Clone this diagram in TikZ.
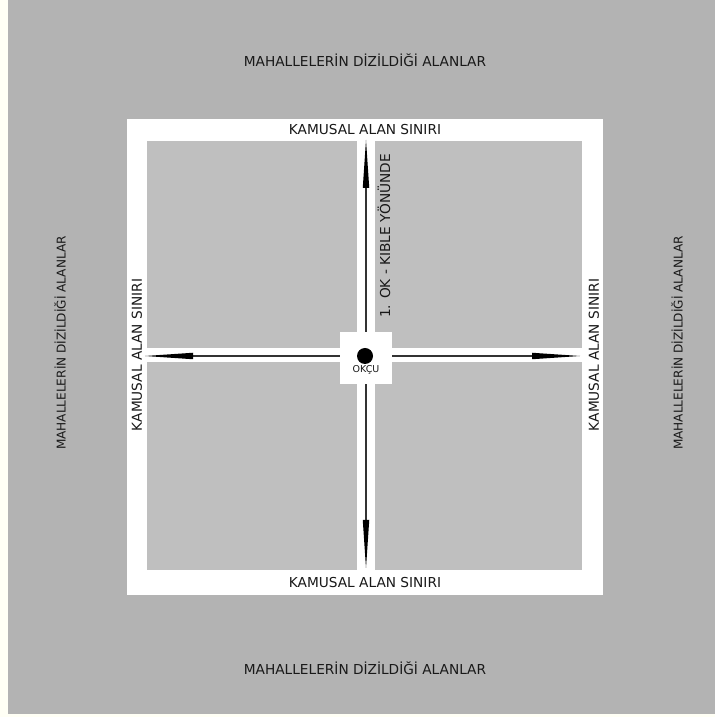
\documentclass[tikz,border=0pt]{standalone}
\usepackage{fontspec}
\setmainfont{DejaVu Sans}
\usetikzlibrary{arrows.meta}
\definecolor{edgebg}{RGB}{255,255,245}
\definecolor{outergray}{RGB}{179,179,179}
\definecolor{quadgray}{RGB}{191,191,191}
\definecolor{txtcol}{RGB}{25,25,25}
\tikzset{
  bigtxt/.style={font=\fontsize{13.7}{16}\selectfont, text=txtcol, inner sep=0pt},
  sidetxt/.style={font=\fontsize{12.1}{14}\selectfont, text=txtcol, inner sep=0pt},
  smalltxt/.style={font=\fontsize{9.5}{11}\selectfont, text=txtcol, inner sep=0pt},
  quad/.style={fill=quadgray, draw=none},
  axis/.style={draw=black!80, line width=1.1pt, -{Triangle[length=48pt,width=6.5pt,line width=0pt,fill=black,color=black]}}
}
\begin{document}
\begin{tikzpicture}[x=1pt,y=1pt]
\useasboundingbox (0,0) rectangle (715,717);
\fill[edgebg] (0,0) rectangle (715,717);
\fill[outergray] (8,3) rectangle (715,717);
% white square
\fill[white] (127,122) rectangle (603,598);
% quadrants
\fill[quad] (147,369) rectangle (357,576);
\fill[quad] (375,369) rectangle (582,576);
\fill[quad] (147,147) rectangle (357,355);
\fill[quad] (375,147) rectangle (582,355);
% axes
\coordinate (c) at (366,361);
\coordinate (n) at (366,577);
\coordinate (s) at (366,149);
\coordinate (w) at (145,361);
\coordinate (e) at (580,361);
\draw[axis] (c) -- (n);
\draw[axis] (c) -- (s);
\draw[axis] (c) -- (w);
\draw[axis] (c) -- (e);
% center box
\fill[white] (340,333) rectangle (392,385);
\node[circle, fill=black, minimum size=16pt, inner sep=0pt] (dot) at (365,361) {};
\node[smalltxt] (okcu) at (366,347) {OKÇU};
% outer labels
\node[bigtxt] (mtop) at (365,657) {MAHALLELERİN DİZİLDİĞİ ALANLAR};
\node[bigtxt] (mbot) at (365,49) {MAHALLELERİN DİZİLDİĞİ ALANLAR};
\node[sidetxt, rotate=90] (mleft) at (60,374) {MAHALLELERİN DİZİLDİĞİ ALANLAR};
\node[sidetxt, rotate=90] (mright) at (677,374) {MAHALLELERİN DİZİLDİĞİ ALANLAR};
% boundary labels
\node[bigtxt] (ktop) at (365,587) {KAMUSAL ALAN SINIRI};
\node[bigtxt] (kbot) at (365,134) {KAMUSAL ALAN SINIRI};
\node[bigtxt, rotate=90] (kleft) at (137,362) {KAMUSAL ALAN SINIRI};
\node[bigtxt, rotate=90] (kright) at (594,362) {KAMUSAL ALAN SINIRI};
% direction label
\node[bigtxt, rotate=90] (kible) at (384,481) {1. OK - KIBLE YÖNÜNDE};
\end{tikzpicture}
\end{document}
